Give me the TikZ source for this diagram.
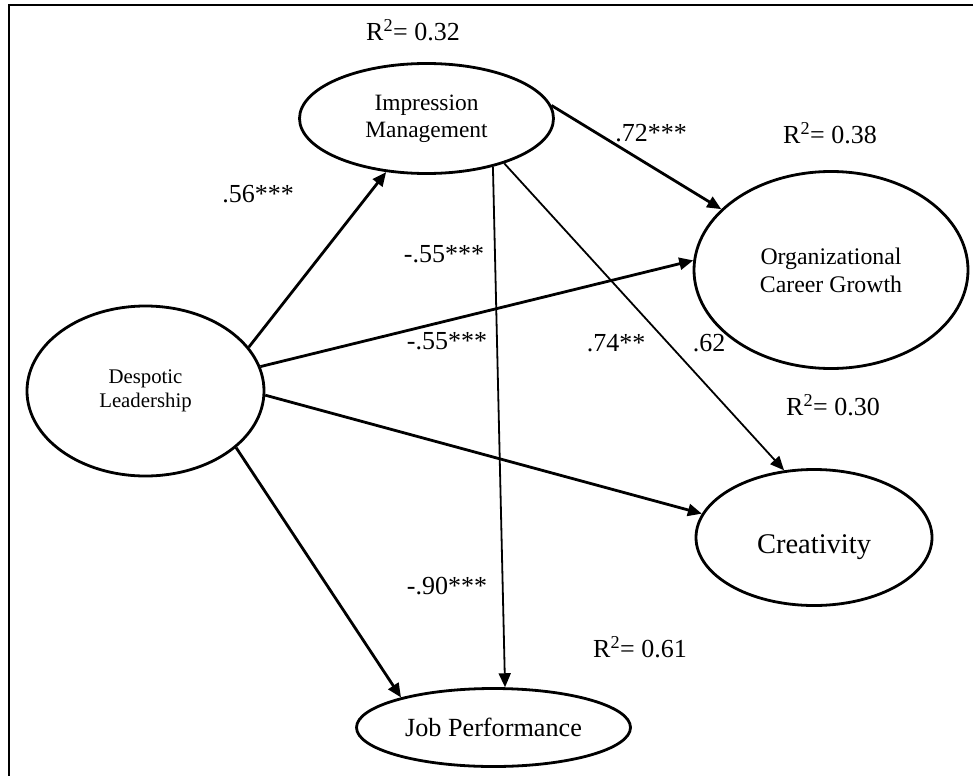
\documentclass[tikz,border=0pt]{standalone}
\usepackage{fontspec}
\setmainfont{Liberation Serif}
\usetikzlibrary{shapes.geometric,arrows.meta}
\begin{document}
\begin{tikzpicture}[x=1pt,y=-1pt,
  latent/.style={ellipse, draw, line width=2.8pt, inner sep=0pt, align=center},
  thickarrow/.style={line width=2.8pt, -{Triangle[length=14pt,width=12pt]}},
  thinarrow/.style={line width=1.8pt, -{Triangle[length=14pt,width=12pt]}},
  coef/.style={font=\fontsize{26}{30}\selectfont, inner sep=0pt}
]
\useasboundingbox (0,0) rectangle (974,776);
\draw[line width=2pt] (973,5) -- (9,5) -- (9,776);

% latent variables
\node[latent, minimum width=237pt, minimum height=170pt,
      font=\fontsize{20.8}{24}\selectfont] (dl) at (145.5,391) {Despotic\\Leadership};
\node[latent, minimum width=254pt, minimum height=110pt,
      font=\fontsize{23.4}{27}\selectfont] (im) at (426.5,118.5) {Impression\\Management};
\node[latent, minimum width=274pt, minimum height=197pt,
      font=\fontsize{23.8}{28}\selectfont] (ocg) at (831,270) {Organizational\\Career Growth};
\node[latent, minimum width=236pt, minimum height=136pt,
      font=\fontsize{28.5}{32}\selectfont] (cr) at (814,537.5) {\raisebox{-10pt}[\height][\depth]{Creativity}};
\node[latent, minimum width=274pt, minimum height=78pt,
      font=\fontsize{26.2}{30}\selectfont] (jp) at (493.5,727.5) {Job Performance};

% paths
\draw[thickarrow] (dl.23.7) -- (im.233.2);
\draw[thickarrow] (im.6.1) -- (ocg.151.2);
\draw[thickarrow] (dl.12.4) -- (ocg.176.7);
\draw[thickarrow] (dl.-2) -- (cr.168.8);
\draw[thickarrow] (dl.-32) -- (jp.162.1);
\draw[thinarrow] (im.-36.6) -- (jp.74.5);
\draw[thinarrow] (im.-30) -- (cr.114.7);

% coefficients and R-squared
\node[coef] (r32) at (413,30) {R\textsuperscript{2}= 0.32};
\node[coef] (r38) at (830,133) {R\textsuperscript{2}= 0.38};
\node[coef] (r30) at (833,405) {R\textsuperscript{2}= 0.30};
\node[coef] (r61) at (640,647) {R\textsuperscript{2}= 0.61};
\node[coef] (c72) at (651,133) {.72***};
\node[coef] (c56) at (258,194) {.56***};
\node[coef] (c55a) at (444,254) {-.55***};
\node[coef] (c55b) at (447,341) {-.55***};
\node[coef] (c74) at (616,343) {.74**};
\node[coef] (c62) at (709,343) {.62};
\node[coef] (c90) at (447,586) {-.90***};
\end{tikzpicture}
\end{document}
